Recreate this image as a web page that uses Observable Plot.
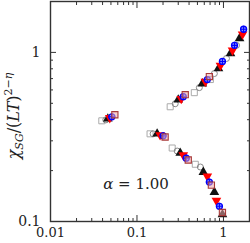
<!DOCTYPE html>
<html><head><meta charset="utf-8">
<script src="https://cdn.jsdelivr.net/npm/d3@7"></script>
<script src="https://cdn.jsdelivr.net/npm/@observablehq/plot@0.6"></script>
<style>body{margin:0;background:#fff} svg text{font-family:'DejaVu Serif','Liberation Serif',serif !important;}</style>
</head><body><div id="chart"></div>
<script>
// series values (x = scaling variable, y = chi_SG/(LT)^{2-eta})
const graySqX = [0.0392, 0.242, 0.460, 0.706, 0.1416, 0.2553, 0.4725];
const graySqY = [0.394, 0.477, 0.578, 0.691, 0.330, 0.272, 0.218];
const grayCircX = [0.0436, 0.2767, 0.526, 0.785, 1.084, 1.416, 0.1535, 0.2919, 0.5404];
const grayCircY = [0.399, 0.497, 0.619, 0.750, 0.921, 1.101, 0.330, 0.261, 0.210];
const blackTriX = [0.046, 0.2999, 0.570, 0.875, 1.206, 1.535, 0.171, 0.3162, 0.585, 0.785, 0.973];
const blackTriY = [0.405, 0.525, 0.654, 0.803, 0.986, 1.211, 0.330, 0.254, 0.196, 0.149, 0.110];
const redTriX = [0.0485, 0.325, 0.618, 0.923, 1.273, 1.663, 0.185, 0.3428, 0.651, 0.829];
const redTriY = [0.410, 0.532, 0.672, 0.837, 1.028, 1.280, 0.325, 0.247, 0.185, 0.133];
const blueX = [0.0512, 0.3428, 0.651, 0.973, 1.342, 1.709, 0.2006, 0.3713, 0.687, 0.898];
const blueY = [0.416, 0.547, 0.691, 0.884, 1.101, 1.371, 0.321, 0.237, 0.171, 0.123];
const brownSqX = [0.0555, 0.3614, 0.687, 0.2116, 0.3917, 0.725, 0.973];
const brownSqY = [0.428, 0.562, 0.720, 0.316, 0.231, 0.164, 0.113];

const xMajor = [0.01, 0.1, 1];
const yMajor = [0.1, 1];
const xMinor = [0.02,0.03,0.04,0.05,0.06,0.07,0.08,0.09,0.2,0.3,0.4,0.5,0.6,0.7,0.8,0.9,2];
const yMinor = [0.2,0.3,0.4,0.5,0.6,0.7,0.8,0.9,2];
const alphaLabel = "1.00";

const toRows = (xs, ys) => xs.map((x, i) => ({x, y: ys[i]}));
const gs = toRows(graySqX, graySqY);
const gc = toRows(grayCircX, grayCircY);
const bt = toRows(blackTriX, blackTriY);
const rt = toRows(redTriX, redTriY);
const bl = toRows(blueX, blueY);
const br = toRows(brownSqX, brownSqY);

const axCol = "#333";
const serif = "'DejaVu Serif','Liberation Serif',serif";
const plot = Plot.plot({
  width: 250, height: 243,
  marginLeft: 50, marginRight: 1, marginTop: 1, marginBottom: 22,
  style: {fontFamily: serif, fontSize: "13px", background: "#fff", color: "#222"},
  x: {type: "log", domain: [0.01, 2.0]},
  y: {type: "log", domain: [0.1, 2.0]},
  marks: [
    Plot.axisX(xMajor, {anchor: "bottom", tickSize: -6, tickFormat: () => "", label: null, stroke: axCol}),
    Plot.axisX(xMinor, {anchor: "bottom", tickSize: -3, tickFormat: () => "", label: null, stroke: axCol}),
    Plot.axisX(xMajor, {anchor: "top", tickSize: -6, tickFormat: () => "", label: null, stroke: axCol}),
    Plot.axisX(xMinor, {anchor: "top", tickSize: -3, tickFormat: () => "", label: null, stroke: axCol}),
    Plot.axisY(yMajor, {anchor: "left", tickSize: -6, tickFormat: () => "", label: null, stroke: axCol}),
    Plot.axisY(yMinor, {anchor: "left", tickSize: -3, tickFormat: () => "", label: null, stroke: axCol}),
    Plot.axisY(yMajor, {anchor: "right", tickSize: -6, tickFormat: () => "", label: null, stroke: axCol}),
    Plot.axisY(yMinor, {anchor: "right", tickSize: -3, tickFormat: () => "", label: null, stroke: axCol}),
    Plot.axisX(xMajor, {anchor: "bottom", tickSize: 0, tickPadding: 6, tickFormat: d => String(d), label: null, fontSize: 13}),
    Plot.axisY(yMajor, {anchor: "left", tickSize: 0, tickPadding: 10, tickFormat: d => String(d), label: null, fontSize: 14}),
    Plot.frame({stroke: axCol, strokeWidth: 1.4}),
    Plot.dot(gs, {x: "x", y: "y", symbol: "square", r: 3.4, stroke: "#aaa", fill: "none", strokeWidth: 1}),
    Plot.dot(gc, {x: "x", y: "y", symbol: "circle", r: 3.0, stroke: "#888", fill: "none", strokeWidth: 1}),
    Plot.dot(bt, {x: "x", y: "y", symbol: "triangle", r: 3.6, fill: "#111", stroke: "none"}),
    Plot.dot(rt, {x: "x", y: "y", symbol: "triangle", rotate: 180, r: 3.6, fill: "#f00", stroke: "none"}),
    Plot.dot(bl, {x: "x", y: "y", symbol: "circle", r: 3.0, stroke: "#0000ff", fill: "#8890ff", strokeWidth: 1.3}),
    Plot.dot(bl, {x: "x", y: "y", symbol: "plus", r: 2.4, stroke: "#0000ff", strokeWidth: 1.1}),
    Plot.dot(br, {x: "x", y: "y", symbol: "square", r: 3.5, stroke: "#a83a3a", fill: "#f0a8a8", fillOpacity: 0.55, strokeWidth: 1.1})
  ]
});

const svg = d3.select(plot);
const yl = svg.append("text")
  .attr("transform", "translate(19,116) rotate(-90)")
  .attr("text-anchor", "middle")
  .style("font-family", serif)
  .style("font-size", "16px")
  .attr("fill", "#222");
yl.append("tspan").style("font-style", "italic").text("χ");
yl.append("tspan").style("font-style", "italic").style("font-size", "11px").attr("dy", 4).text("SG");
yl.append("tspan").attr("dy", -4).text("/(");
yl.append("tspan").style("font-style", "italic").text("LT");
yl.append("tspan").text(")");
yl.append("tspan").style("font-size", "11px").attr("dy", -7).text("2−");
yl.append("tspan").style("font-size", "11px").style("font-style", "italic").text("η");

const al = svg.append("text")
  .attr("x", 136).attr("y", 189)
  .attr("text-anchor", "middle")
  .style("font-family", serif)
  .style("font-size", "15px")
  .attr("fill", "#222");
al.append("tspan").style("font-style", "italic").text("α");
al.append("tspan").text(" = " + alphaLabel);

document.getElementById("chart").append(plot);
</script>
</body></html>
